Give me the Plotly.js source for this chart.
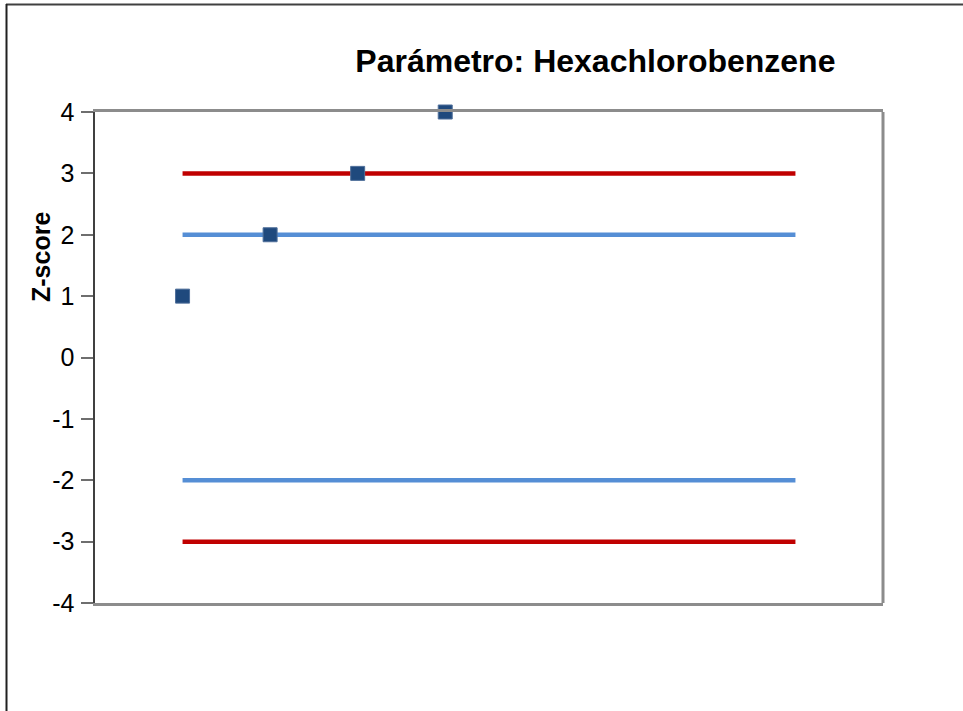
<!DOCTYPE html>
<html>
<head>
<meta charset="utf-8">
<script src="https://cdn.plot.ly/plotly-3.0.1.min.js"></script>
<style>
html,body{margin:0;padding:0;background:#fff;}
#chart{width:963px;height:711px;}
</style>
</head>
<body>
<div id="chart"></div>
<script>
// Data
const labX = [1, 2, 3, 4];
const labZ = [1, 2, 3, 4];
const limitX = [1, 2, 3, 4, 5, 6, 7, 8];
const upper3 = [3, 3, 3, 3, 3, 3, 3, 3];
const upper2 = [2, 2, 2, 2, 2, 2, 2, 2];
const lower2 = [-2, -2, -2, -2, -2, -2, -2, -2];
const lower3 = [-3, -3, -3, -3, -3, -3, -3, -3];
const yTicks = [-4, -3, -2, -1, 0, 1, 2, 3, 4];

const redC = '#C00000';
const blueC = '#558ED5';

const traces = [
  {x: limitX, y: upper3, mode: 'lines', line: {color: redC, width: 4.5}, hoverinfo: 'skip'},
  {x: limitX, y: lower3, mode: 'lines', line: {color: redC, width: 4.5}, hoverinfo: 'skip'},
  {x: limitX, y: upper2, mode: 'lines', line: {color: blueC, width: 4.5}, hoverinfo: 'skip'},
  {x: limitX, y: lower2, mode: 'lines', line: {color: blueC, width: 4.5}, hoverinfo: 'skip'},
  {x: labX, y: labZ, mode: 'markers', cliponaxis: false,
   marker: {symbol: 'square', size: 14, color: '#1F497D', line: {color: '#4F6F9A', width: 1}}}
];

const layout = {
  width: 963, height: 711,
  margin: {l: 95, r: 80, t: 112, b: 108},
  paper_bgcolor: '#fff', plot_bgcolor: '#fff',
  showlegend: false,
  font: {family: 'Liberation Sans, Arial, sans-serif', color: '#000'},
  title: {text: '<b>Parámetro: Hexachlorobenzene</b>', font: {size: 32, color: '#000'},
          xref: 'paper', x: 0.635, xanchor: 'center', yref: 'container', y: 1 - 61/711, yanchor: 'middle'},
  xaxis: {range: [0, 9], showticklabels: false, ticks: '', showgrid: false, zeroline: false,
          showline: true, mirror: true, linecolor: '#8C8C8C', linewidth: 3},
  yaxis: {range: [-4, 4], tickvals: yTicks, ticktext: yTicks.map(String), ticks: 'outside', ticklen: 12,
          tickcolor: '#6E6E6E', tickwidth: 2, showgrid: false, zeroline: false,
          showline: true, linecolor: '#404040', linewidth: 2.5, ticklabelstandoff: 1,
          tickfont: {size: 25, color: '#000'}},
  annotations: [
    {text: '<b>Z-score</b>', textangle: -90, xref: 'paper', yref: 'paper',
     x: (41 - 95) / 788, y: (603 - 257) / 491, xanchor: 'center', yanchor: 'middle',
     showarrow: false, font: {size: 25, color: '#000'}}
  ],
  shapes: [
    {type: 'line', xref: 'paper', yref: 'paper', x0: 1, x1: 1, y0: 0, y1: 1,
     line: {color: '#8C8C8C', width: 3}},
    {type: 'line', xref: 'paper', yref: 'paper', x0: (6 - 95) / 788, x1: (963 - 95) / 788,
     y0: (603 - 4.5) / 491, y1: (603 - 4.5) / 491, line: {color: '#404040', width: 2}},
    {type: 'line', xref: 'paper', yref: 'paper', x0: (6.5 - 95) / 788, x1: (6.5 - 95) / 788,
     y0: (603 - 4) / 491, y1: (603 - 712) / 491, line: {color: '#202020', width: 2}}
  ]
};

Plotly.newPlot('chart', traces, layout, {displayModeBar: false, staticPlot: true});
</script>
</body>
</html>
